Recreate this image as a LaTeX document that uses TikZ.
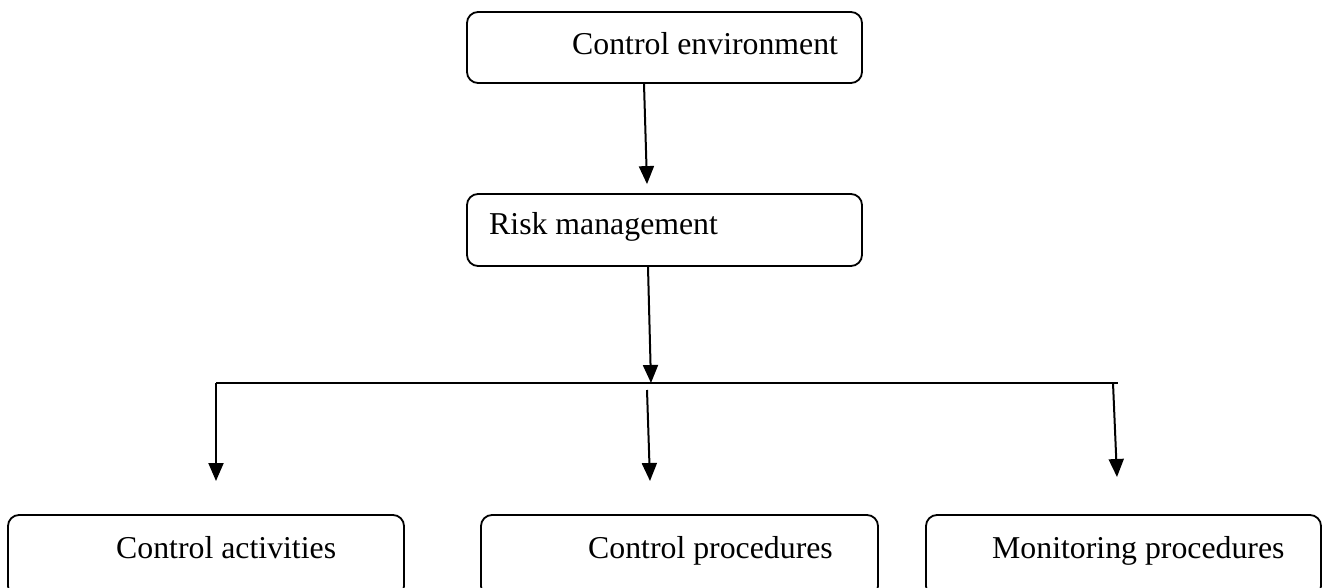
\documentclass[tikz,border=0pt]{standalone}
\usepackage{fontspec}
\setmainfont{Liberation Serif}
\usetikzlibrary{arrows.meta}
\begin{document}
\begin{tikzpicture}[x=1pt,y=-1pt,
  box/.style={draw, line width=1.8pt, rounded corners=11pt, inner sep=0pt},
  lbl/.style={anchor=base west, inner sep=0pt, font=\fontsize{31.8}{38}\selectfont},
  arr/.style={line width=2pt, -{Triangle[length=18pt,width=15pt]}},
  ln/.style={line width=2pt}]
\useasboundingbox (0,0) rectangle (1323,588);
\clip (0,0) rectangle (1323,588);
% boxes
\node[box, minimum width=395pt, minimum height=71pt] (ce) at (664.5,47.5) {};
\node[box, minimum width=395pt, minimum height=72pt] (rm) at (664.5,230) {};
\node[box, minimum width=396pt, minimum height=82pt] (ca) at (206,556) {};
\node[box, minimum width=397pt, minimum height=82pt] (cp) at (679.5,556) {};
\node[box, minimum width=395pt, minimum height=82pt] (mp) at (1123.5,556) {};
% labels
\node[lbl] (cet) at (572,55) {Control environment};
\node[lbl] (rmt) at (489,235) {Risk management};
\node[lbl] (cat) at (116,558) {Control activities};
\node[lbl] (cpt) at (588,558) {Control procedures};
\node[lbl] (mpt) at (992,558) {Monitoring procedures};
% connector points
\coordinate (j) at (651,383);
\coordinate (hl) at (216,383);
\coordinate (hr) at (1118,383);
\coordinate (m0) at (647,390);
\coordinate (r0) at (1113,383);
\coordinate (tl) at (216,481);
\coordinate (tm) at (650,481);
\coordinate (tr) at (1117,477);
% connectors
\draw[arr] ([xshift=-20.5pt]ce.south) -- ([xshift=-17.5pt,yshift=9pt]rm.north);
\draw[arr] ([xshift=-16.5pt]rm.south) -- (j);
\draw[ln] (hl) -- (hr);
\draw[arr] (hl) -- (tl);
\draw[arr] (m0) -- (tm);
\draw[arr] (r0) -- (tr);
\end{tikzpicture}
\end{document}
